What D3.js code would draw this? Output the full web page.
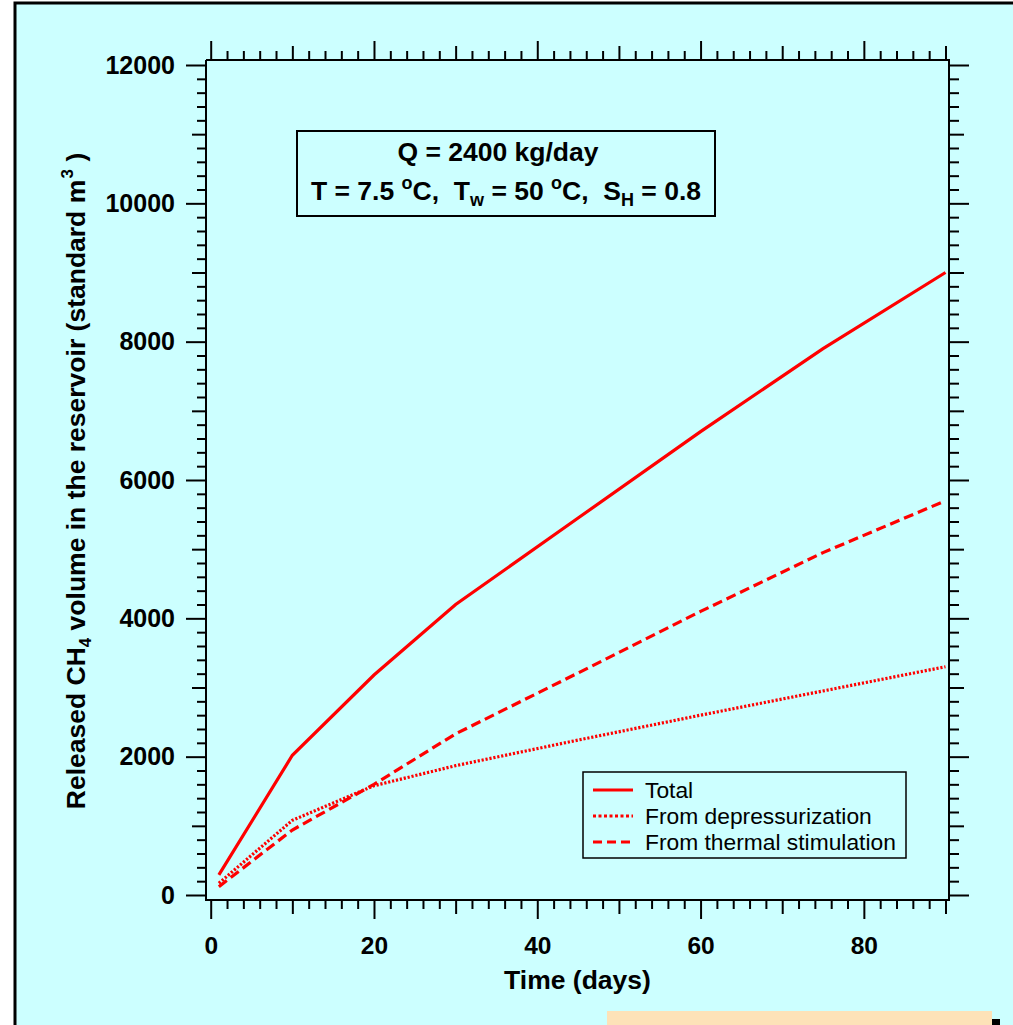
<!DOCTYPE html>
<html>
<head>
<meta charset="utf-8">
<script src="https://cdn.jsdelivr.net/npm/d3@7"></script>
<style>
  body { margin: 0; background: #ffffff; }
  svg { display: block; font-family: "Liberation Sans", Arial, sans-serif; }
  text { white-space: pre; }
</style>
</head>
<body>
<svg id="chart" width="1013" height="1025"></svg>
<script>
// ---- data ----
const days = [1, 10, 20, 30, 45, 60, 75, 90];
const totalVol = [290, 2020, 3180, 4200, 5450, 6700, 7900, 9000];
const depressVol = [170, 1080, 1580, 1870, 2240, 2600, 2950, 3300];
const thermalVol = [120, 940, 1600, 2330, 3210, 4100, 4950, 5700];
const seriesNames = ["Total", "From depressurization", "From thermal stimulation"];
const xMajorTicks = [0, 20, 40, 60, 80];
const yMajorTicks = [0, 2000, 4000, 6000, 8000, 10000, 12000];

const svg = d3.select("#chart");
const red = "#ff0000";
const bg = "#ccffff";

// outer figure panel
svg.append("rect").attr("x", 15).attr("y", 3).attr("width", 1040).attr("height", 1060)
  .attr("fill", bg).attr("stroke", "#000").attr("stroke-width", 3);

// frame
const fL = 206, fR = 949, fT = 60, fB = 900;
const x = d3.scaleLinear().domain([0, 90]).range([210.7, 945.5]);
const y = d3.scaleLinear().domain([0, 12000]).range([895, 65]);

const xMid = d3.range(10, 91, 20);
const xMinor = d3.range(0, 91, 2).filter(d => d % 10 !== 0);
const yMid = d3.range(1000, 12000, 2000);
const yMinor = d3.range(0, 12001, 200).filter(d => d % 1000 !== 0);

function tickSet(axisFn, scale, vals, len, tx, ty) {
  const g = svg.append("g").attr("transform", `translate(${tx},${ty})`)
    .call(axisFn(scale).tickValues(vals).tickSize(len).tickFormat(""));
  g.select(".domain").remove();
  g.selectAll("line").attr("stroke", "#000").attr("stroke-width", 2);
  return g;
}
// bottom / top
tickSet(d3.axisBottom, x, xMinor, 9, 0, fB);
tickSet(d3.axisBottom, x, xMid, 14, 0, fB);
tickSet(d3.axisTop, x, xMinor, 9, 0, fT);
tickSet(d3.axisTop, x, xMid, 14, 0, fT);
tickSet(d3.axisTop, x, xMajorTicks, 19, 0, fT);
// left / right
tickSet(d3.axisLeft, y, yMinor, 9, fL, 0);
tickSet(d3.axisLeft, y, yMid, 14, fL, 0);
tickSet(d3.axisRight, y, yMinor, 10, fR, 0);
tickSet(d3.axisRight, y, yMid, 15, fR, 0);
tickSet(d3.axisRight, y, yMajorTicks, 20, fR, 0);

// labelled axes
const gx = svg.append("g").attr("transform", `translate(0,${fB})`)
  .call(d3.axisBottom(x).tickValues(xMajorTicks).tickSize(19).tickPadding(18).tickFormat(d3.format("d")));
gx.select(".domain").remove();
gx.selectAll("line").attr("stroke", "#000").attr("stroke-width", 2);
gx.selectAll("text").attr("font-size", 24.5).attr("font-weight", "bold").attr("fill", "#000")
  .attr("font-family", "Liberation Sans, Arial, sans-serif");

const gy = svg.append("g").attr("transform", `translate(${fL},0)`)
  .call(d3.axisLeft(y).tickValues(yMajorTicks).tickSize(20).tickPadding(11).tickFormat(d3.format("d")));
gy.select(".domain").remove();
gy.selectAll("line").attr("stroke", "#000").attr("stroke-width", 2);
gy.selectAll("text").attr("font-size", 25).attr("font-weight", "bold").attr("fill", "#000")
  .attr("font-family", "Liberation Sans, Arial, sans-serif");

// frame lines
svg.append("path")
  .attr("d", `M${fL},${fT}V${fB}H${fR}V${fT}H${fL}`)
  .attr("fill", "none").attr("stroke", "#000").attr("stroke-width", 2);

// series lines
const line = d3.line().x((d, i) => x(days[i])).y(d => y(d));
const styles = [null, "2.2,1.8", "10,5"];
[totalVol, depressVol, thermalVol].forEach((vals, k) => {
  const p = svg.append("path").datum(vals).attr("d", line)
    .attr("fill", "none").attr("stroke", red).attr("stroke-width", 3.2);
  if (styles[k]) p.attr("stroke-dasharray", styles[k]);
});

// axis titles
svg.append("text").attr("x", (fL + fR) / 2).attr("y", 989).attr("text-anchor", "middle")
  .attr("font-size", 26.5).attr("font-weight", "bold").text("Time (days)");

const yt = svg.append("text").attr("transform", `translate(85,${(fT + fB) / 2 + 1}) rotate(-90)`)
  .attr("text-anchor", "middle").attr("font-size", 26.5).attr("font-weight", "bold");
yt.append("tspan").text("Released CH");
yt.append("tspan").attr("font-size", 17).attr("dy", 6).text("4");
yt.append("tspan").attr("dy", -6).text(" volume in the reservoir (standard m ");
yt.append("tspan").attr("font-size", 17).attr("dy", -12).attr("dx", -6).text("3");
yt.append("tspan").attr("dy", 12).text(" )");

// annotation box
svg.append("rect").attr("x", 297).attr("y", 131).attr("width", 418).attr("height", 85)
  .attr("fill", bg).attr("stroke", "#000").attr("stroke-width", 2);
svg.append("text").attr("x", 498).attr("y", 161).attr("text-anchor", "middle")
  .attr("font-size", 26.5).attr("font-weight", "bold").text("Q = 2400 kg/day");
const l2 = svg.append("text").attr("x", 506).attr("y", 200).attr("text-anchor", "middle")
  .attr("font-size", 26.5).attr("font-weight", "bold");
l2.append("tspan").text("T = 7.5 ");
l2.append("tspan").attr("font-size", 18).attr("dy", -11).text("o");
l2.append("tspan").attr("dy", 11).text("C,  T");
l2.append("tspan").attr("font-size", 18).attr("dy", 6).text("w");
l2.append("tspan").attr("dy", -6).text(" = 50 ");
l2.append("tspan").attr("font-size", 18).attr("dy", -11).text("o");
l2.append("tspan").attr("dy", 11).text("C,  S");
l2.append("tspan").attr("font-size", 18).attr("dy", 6).text("H");
l2.append("tspan").attr("dy", -6).text(" = 0.8");

// legend
svg.append("rect").attr("x", 583).attr("y", 772).attr("width", 323).attr("height", 86)
  .attr("fill", bg).attr("stroke", "#000").attr("stroke-width", 1.5);
const lg = svg.append("g");
seriesNames.forEach((name, k) => {
  const cy = 790 + k * 26;
  const ln = lg.append("line").attr("x1", 593).attr("x2", 633).attr("y1", cy).attr("y2", cy)
    .attr("stroke", red).attr("stroke-width", 3.2);
  if (styles[k]) ln.attr("stroke-dasharray", k === 1 ? "3,2.5" : "9,5");
  lg.append("text").attr("x", 645).attr("y", cy + 8).attr("font-size", 22.8).text(name);
});

// caption box fragment at the bottom
svg.append("rect").attr("x", 607).attr("y", 1011).attr("width", 385).attr("height", 20).attr("fill", "#fde2b8");
svg.append("rect").attr("x", 992).attr("y", 1019).attr("width", 8).attr("height", 10).attr("fill", "#000");
</script>
</body>
</html>
